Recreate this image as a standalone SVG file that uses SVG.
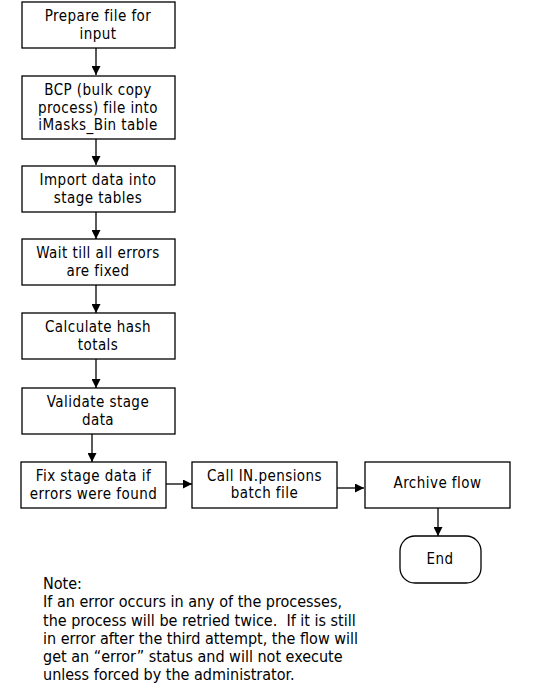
<svg xmlns="http://www.w3.org/2000/svg" width="554" height="692" viewBox="0 0 554 692">
<style>
.box{fill:#fff;stroke:#000;stroke-width:1.3}
.t{font-family:"DejaVu Sans Condensed","DejaVu Sans",sans-serif;font-stretch:condensed;font-size:15px;letter-spacing:0.45px;fill:#000;text-anchor:middle;dominant-baseline:central}
.n{font-family:"DejaVu Sans Condensed","DejaVu Sans",sans-serif;font-stretch:condensed;font-size:16px;fill:#000;white-space:pre}
.c{stroke:#000;stroke-width:1.3;fill:none;marker-end:url(#ah)}
</style>
<defs>
<marker id="ah" viewBox="0 0 10 10" refX="10" refY="5" markerWidth="9" markerHeight="9" markerUnits="userSpaceOnUse" orient="auto">
<path d="M0,0 L10,5 L0,10 z" fill="#000"/>
</marker>
</defs>
<rect width="554" height="692" fill="#fff"/>
<g id="connectors">
<line class="c" x1="96" y1="48" x2="96" y2="75"/>
<line class="c" x1="96" y1="139" x2="96" y2="165"/>
<line class="c" x1="96" y1="212" x2="96" y2="239"/>
<line class="c" x1="96" y1="285" x2="96" y2="313"/>
<line class="c" x1="96" y1="359" x2="96" y2="388"/>
<line class="c" x1="92" y1="434" x2="92" y2="462"/>
<line class="c" x1="166" y1="484" x2="192" y2="484"/>
<line class="c" x1="337" y1="488" x2="364" y2="488"/>
<line class="c" x1="438" y1="508" x2="438" y2="536"/>
</g>
<g id="n1"><rect class="box" x="22" y="2" width="153" height="46"/>
<text class="t" x="98" y="16.4">Prepare file for</text><text class="t" x="98" y="34">input</text></g>
<g id="n2"><rect class="box" x="22" y="76" width="153" height="63"/>
<text class="t" x="98" y="89.9">BCP (bulk copy</text><text class="t" x="98" y="107.5">process) file into</text><text class="t" x="98" y="125.1">iMasks_Bin table</text></g>
<g id="n3"><rect class="box" x="22" y="166" width="153" height="46"/>
<text class="t" x="98" y="180.2">Import data into</text><text class="t" x="98" y="197.8">stage tables</text></g>
<g id="n4"><rect class="box" x="22" y="239" width="153" height="46"/>
<text class="t" x="98" y="253.2">Wait till all errors</text><text class="t" x="98" y="270.8">are fixed</text></g>
<g id="n5"><rect class="box" x="22" y="313" width="153" height="46"/>
<text class="t" x="98" y="327.2">Calculate hash</text><text class="t" x="98" y="344.8">totals</text></g>
<g id="n6"><rect class="box" x="22" y="388" width="153" height="46"/>
<text class="t" x="98" y="402.2">Validate stage</text><text class="t" x="98" y="419.8">data</text></g>
<g id="n7"><rect class="box" x="21" y="462" width="145" height="46"/>
<text class="t" x="93.5" y="476.2">Fix stage data if</text><text class="t" x="93.5" y="493.8">errors were found</text></g>
<g id="n8"><rect class="box" x="192" y="462" width="145" height="46"/>
<text class="t" x="264.5" y="475.7">Call IN.pensions</text><text class="t" x="264.5" y="493.3">batch file</text></g>
<g id="n9"><rect class="box" x="365" y="462" width="145" height="46"/>
<text class="t" x="437.5" y="483">Archive flow</text></g>
<g id="n10"><rect class="box" x="400" y="536" width="81" height="47" rx="15" ry="15"/>
<text class="t" x="440" y="559">End</text></g>
<g id="note">
<text class="n" x="43" y="588.5">Note:</text>
<text class="n" x="43" y="607">If an error occurs in any of the processes,</text>
<text class="n" x="43" y="625.5">the process will be retried twice.  If it is still</text>
<text class="n" x="43" y="643.5">in error after the third attempt, the flow will</text>
<text class="n" x="43" y="661.5">get an “error” status and will not execute</text>
<text class="n" x="43" y="679.5">unless forced by the administrator.</text>
</g>
</svg>
